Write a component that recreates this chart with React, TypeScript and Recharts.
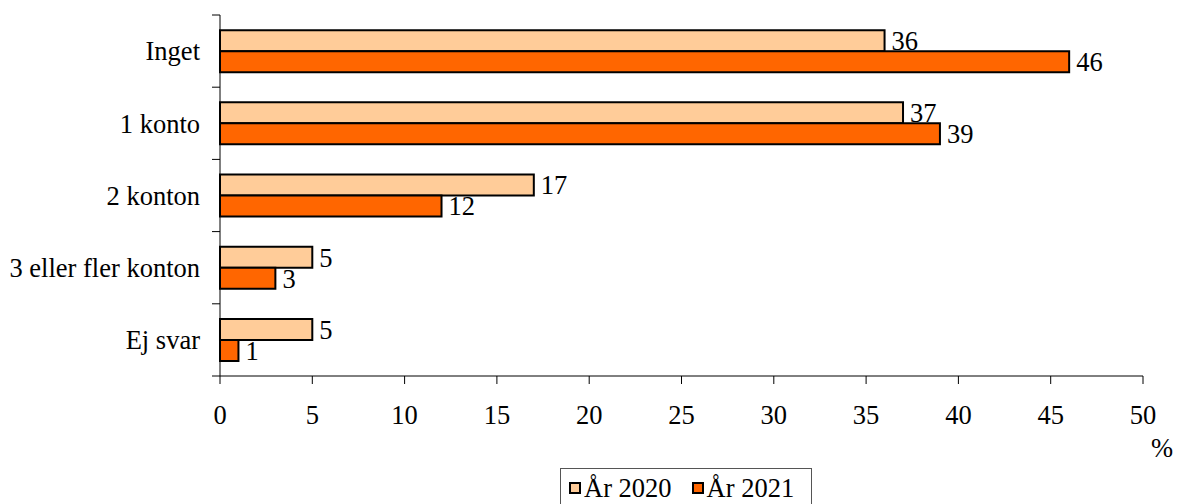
import React from "react";
import { BarChart, Bar, XAxis, YAxis, LabelList } from "recharts";

const categories = ["Inget", "1 konto", "2 konton", "3 eller fler konton", "Ej svar"];
const values2020 = [36, 37, 17, 5, 5];
const values2021 = [46, 39, 12, 3, 1];
const xTicks = [0, 5, 10, 15, 20, 25, 30, 35, 40, 45, 50];

const series = [
  { key: "y2020", name: "År 2020", color: "#FFCC99" },
  { key: "y2021", name: "År 2021", color: "#FF6600" },
];

const FONT = "Liberation Serif";
const FS = 26.5;
const TICK_SIZE = 8;
const Y_MARGIN = 12;

const data = categories.map((c, i) => ({ cat: c, y2020: values2020[i], y2021: values2021[i] }));

const PercentLabel = (props: any) => {
  const vb = props.viewBox;
  return (
    <text x={vb.x + vb.width + 19} y={vb.y + 81} textAnchor="middle" fontSize={FS} fontFamily={FONT} fill="#000">
      %
    </text>
  );
};

// category label plus tick marks on the band edges (not the band centres)
const CategoryTick = (props: any) => {
  const { x, y, payload, index, visibleTicksCount } = props;
  const half = payload.offset || 0;
  const lx2 = x + Y_MARGIN + TICK_SIZE;
  const lx1 = x + Y_MARGIN;
  return (
    <g>
      <line x1={lx1} x2={lx2} y1={y - half} y2={y - half} stroke="#000" />
      {index === visibleTicksCount - 1 && (
        <line x1={lx1} x2={lx2} y1={y + half} y2={y + half} stroke="#000" />
      )}
      <text x={x} y={y} dy="0.35em" textAnchor="end" fontSize={FS} fontFamily={FONT} fill="#000">
        {payload.value}
      </text>
    </g>
  );
};

export default function App() {
  return (
    <div
      style={{
        position: "relative",
        width: 1165,
        height: 496,
        overflow: "hidden",
        fontFamily: FONT,
      }}
    >
      <BarChart
        width={1165}
        height={496}
        data={data}
        layout="vertical"
        margin={{ top: 7, right: 30, left: 0, bottom: 0 }}
        barCategoryGap="21%"
        barGap={0}
      >
        <XAxis
          type="number"
          domain={[0, 50]}
          ticks={xTicks}
          interval={0}
          height={128}
          tickSize={TICK_SIZE}
          tickMargin={21}
          stroke="#000"
          tick={{ fill: "#000", fontSize: FS, fontFamily: FONT }}
          label={<PercentLabel />}
        />
        <YAxis
          type="category"
          dataKey="cat"
          width={212}
          tickSize={TICK_SIZE}
          tickLine={false}
          stroke="#000"
          tickMargin={Y_MARGIN}
          interval={0}
          tick={<CategoryTick />}
        />
        {series.map((s) => (
          <Bar
            key={s.key}
            dataKey={s.key}
            name={s.name}
            fill={s.color}
            stroke="#000"
            strokeWidth={2}
            isAnimationActive={false}
          >
            <LabelList dataKey={s.key} position="right" offset={7} fill="#000" fontSize={FS} fontFamily={FONT} />
          </Bar>
        ))}
      </BarChart>
      <div
        style={{
          position: "absolute",
          left: 552,
          top: 460,
          width: 252,
          height: 40,
          border: "1px solid #555",
          display: "flex",
          alignItems: "center",
          boxSizing: "border-box",
          paddingLeft: 8,
          fontSize: FS,
          color: "#000",
          whiteSpace: "nowrap",
        }}
      >
        {series.map((s, i) => (
          <span key={s.key} style={{ display: "flex", alignItems: "center", marginRight: i === 0 ? 20 : 0 }}>
            <span
              style={{
                display: "inline-block",
                width: 8,
                height: 8,
                border: "2px solid #000",
                background: s.color,
                marginRight: 3,
              }}
            />
            {s.name}
          </span>
        ))}
      </div>
    </div>
  );
}
